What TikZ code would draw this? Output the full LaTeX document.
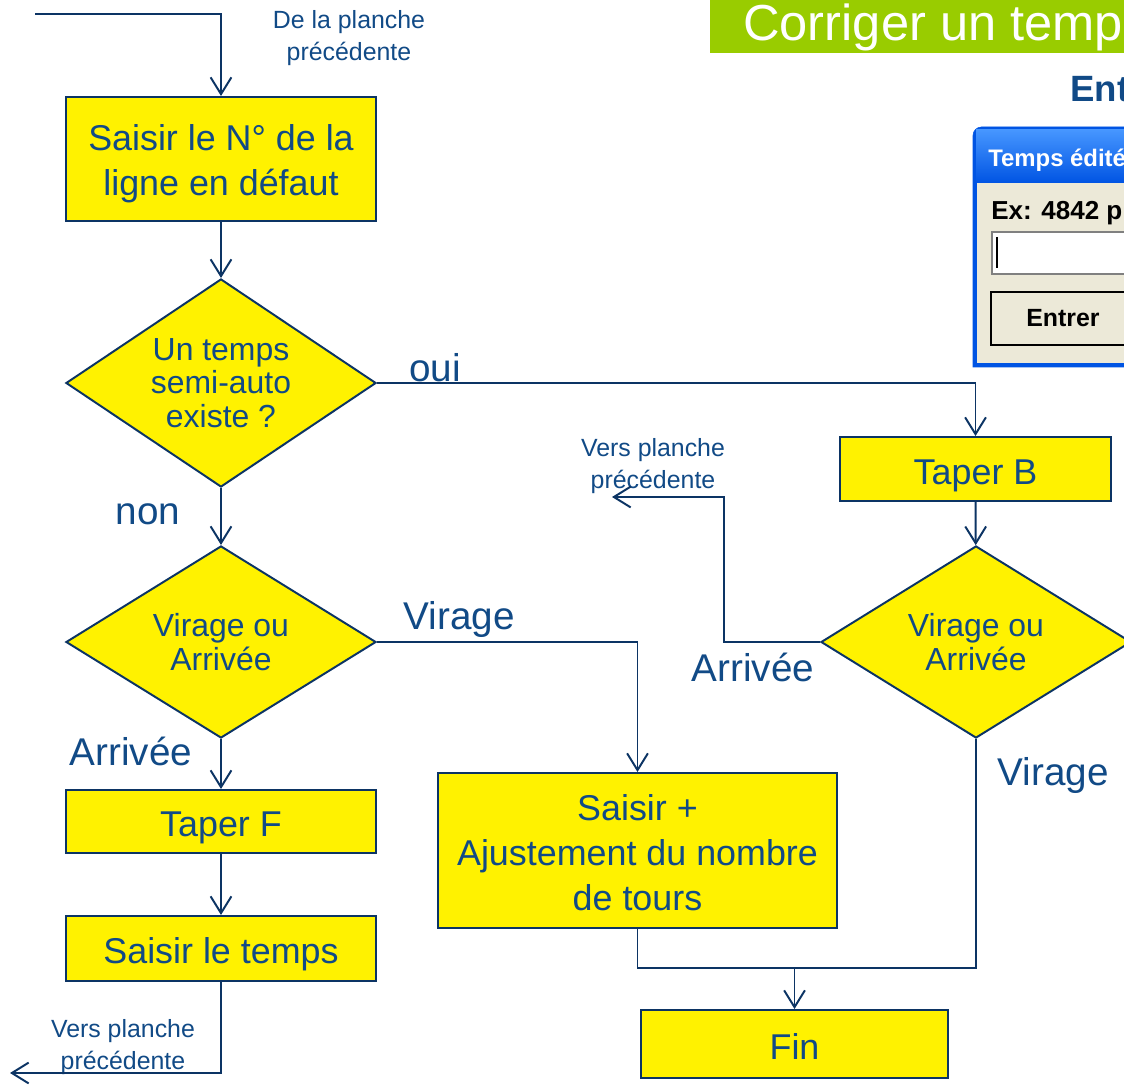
\documentclass[tikz,border=0pt]{standalone}
\usepackage{fontspec}
\setmainfont{Liberation Sans}
\usetikzlibrary{shapes.geometric}
\usetikzlibrary{arrows.meta}

\definecolor{textblue}{RGB}{17,74,134}
\definecolor{lineblue}{RGB}{12,52,100}
\definecolor{titlegreen}{RGB}{153,204,0}
\definecolor{winblue}{RGB}{0,84,227}
\definecolor{winlight}{RGB}{70,150,255}
\definecolor{winbeige}{RGB}{236,233,216}

\newcommand{\hausse}[1]{\rule{0pt}{#1}}

\begin{document}
\begin{tikzpicture}[x=0.025cm, y=-0.025cm,
    boxnode/.style={rectangle, draw=lineblue, line width=1.4pt, fill=yellow, text=textblue, align=center, inner sep=0pt, font=\fontsize{25.5}{32}\selectfont},
    oneline/.style={text height=0.9cm, text depth=0.15cm},
    testnode/.style={diamond, aspect=1.5, draw=lineblue, line width=1.4pt, fill=yellow, text=textblue, align=center, inner sep=0pt, font=\fontsize{22.7}{24}\selectfont},
    choixlabel/.style={text=textblue, font=\fontsize{27.5}{30}\selectfont},
    notelabel/.style={text=textblue, align=center, font=\fontsize{17.7}{22.7}\selectfont},
    flow/.style={draw=lineblue, line width=1.4pt},
    arrow/.style={flow, -{Straight Barb[length=4.2mm, width=5.2mm]}},
]
    \useasboundingbox (0,0) rectangle (1124,1089);
    \clip (0,0) rectangle (1124,1089);

    % Title
    \fill [titlegreen] (710,0) rectangle (1124,53);
    \node (title) at (743,41) [anchor=base west, inner sep=0pt, text=white, font=\fontsize{36}{40}\selectfont]{Corriger un temps};
    \node (entree_title) at (1070,102) [anchor=base west, inner sep=0pt, text=textblue, font=\fontsize{26}{30}\selectfont\bfseries]{Ent};

    % Dialog window
    \draw [winblue, fill=winblue] (973,367) [rounded corners=6pt] -- (973,127) -- (1140,127) [sharp corners] -- (1140,367) -- cycle;
    \shade [top color=winlight, bottom color=winblue] (976,130) rectangle (1140,183);
    \fill [winbeige] (977,183) rectangle (1140,363);
    \node (win_title) at (988,167) [anchor=base west, inner sep=0pt, text=white, font=\fontsize{17}{20}\selectfont\bfseries]{Temps édité};
    \node (win_hint) at (991,220) [anchor=base west, inner sep=0pt, text=black, font=\fontsize{18.5}{20}\selectfont\bfseries]{Ex: 4842 p};
    \draw [gray, fill=white, line width=1pt] (992,232) rectangle (1140,274);
    \draw [black, line width=0.8pt] (997,237) -- (997,268);
    \draw [black, fill=winbeige, line width=1.2pt] (991,292) rectangle (1140,345);
    \node (win_button) at (1063,327) [anchor=base, inner sep=0pt, text=black, font=\fontsize{17.7}{20}\selectfont\bfseries]{Entrer};

    % Left column
    \coordinate (depart) at (35,14);
    \node at (349,38) [notelabel](de_planche){De la planche\\précédente};
    \node at (221,159) [boxnode, minimum width=7.75cm, minimum height=3.1cm](saisir_no){\hausse{0.9cm}Saisir le N° de la\\ligne en défaut};
    \node at (221,383) [testnode, minimum width=7.75cm, minimum height=5.2cm](test_semi){Un temps\\semi-auto\\existe ?};
    \node at (221,642) [testnode, minimum width=7.75cm, minimum height=4.8cm](choix_a){Virage ou\\Arrivée};
    \node at (221,821.5) [boxnode, oneline, minimum width=7.75cm, minimum height=1.575cm](taper_f){Taper F};
    \node at (221,948.5) [boxnode, oneline, minimum width=7.75cm, minimum height=1.625cm](saisir_temps){Saisir le temps};
    \coordinate (vers_f) at (10,1073);
    \node at (123,1047) [notelabel](vers_planche_f){Vers planche\\précédente};

    % Right column
    \node at (975.5,469) [boxnode, oneline, minimum width=6.775cm, minimum height=1.6cm](taper_b){Taper B};
    \node at (976,642) [testnode, minimum width=7.75cm, minimum height=4.8cm](choix_b){Virage ou\\Arrivée};
    \coordinate (vers_b) at (612,497);
    \node at (653,466) [notelabel](vers_planche_b){Vers planche\\précédente};
    \node at (637.5,850.5) [boxnode, minimum width=9.975cm, minimum height=3.875cm](saisir_tours){\hausse{0.75cm}Saisir +\\Ajustement du nombre\\de tours};
    \node at (794.5,1044) [boxnode, oneline, minimum width=7.675cm, minimum height=1.7cm](fin){Fin};
    \coordinate (jonction) at (794.5,968);

    % Labels
    \node at (435,368) [choixlabel](oui){oui};
    \node at (148,514) [choixlabel](non){non};
    \node at (459,619) [choixlabel](virage_a){Virage};
    \node at (131,751) [choixlabel](arrivee_a){Arrivée};
    \node at (753,667) [choixlabel](arrivee_b){Arrivée};
    \node at (1053,775) [choixlabel](virage_b){Virage};

    % Connectors
    \draw [arrow] (depart) -| (saisir_no.north);
    \draw [arrow] (saisir_no) -- (test_semi);
    \draw [arrow] (test_semi) -- (choix_a);
    \draw [arrow] (test_semi.east) -| (taper_b.north);
    \draw [arrow] (choix_a.east) -| (saisir_tours.north);
    \draw [arrow] (choix_a) -- (taper_f);
    \draw [arrow] (taper_f) -- (saisir_temps);
    \draw [arrow] (saisir_temps.south) |- (vers_f);
    \draw [arrow] (taper_b) -- (choix_b);
    \draw [arrow] (choix_b.west) -- ++(-96,0) |- (vers_b);
    \draw [flow] (choix_b.south) |- (jonction);
    \draw [flow] (saisir_tours.south) |- (jonction);
    \draw [arrow] (jonction) -- (fin);
\end{tikzpicture}
\end{document}
